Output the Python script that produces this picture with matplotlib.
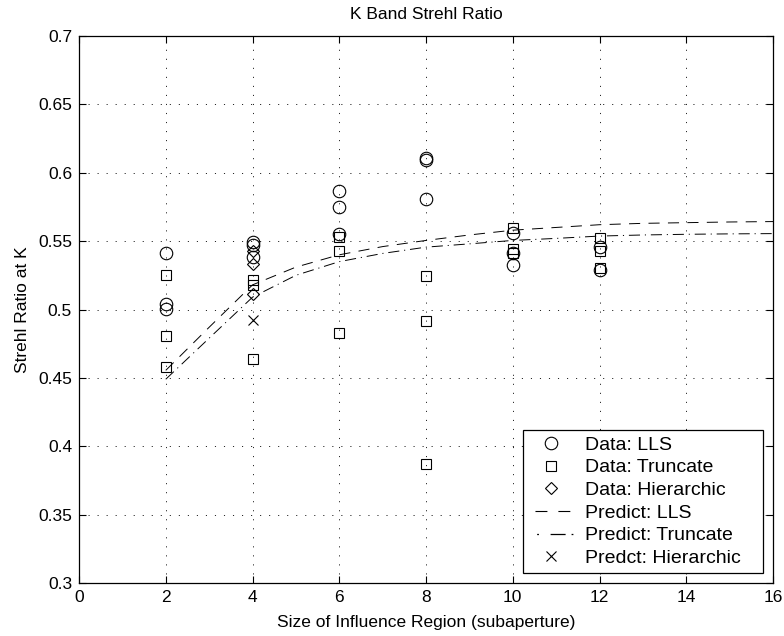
import matplotlib
matplotlib.use("Agg")
import matplotlib.pyplot as plt
from matplotlib.lines import Line2D

plt.rcParams['font.family'] = ['Liberation Sans', 'DejaVu Sans']
plt.rcParams['lines.scale_dashes'] = False

# ---- data ----
lls_x = [2, 2, 2, 4, 4, 4, 6, 6, 6, 8, 8, 8, 10, 10, 10, 12, 12]
lls_y = [0.541, 0.504, 0.5006, 0.5495, 0.547, 0.5385, 0.5864, 0.5749, 0.555,
         0.611, 0.609, 0.581, 0.5556, 0.541, 0.5322, 0.5456, 0.5286]

trunc_x = [2, 2, 2, 4, 4, 4, 6, 6, 6, 8, 8, 8, 10, 10, 10, 12, 12, 12]
trunc_y = [0.525, 0.4803, 0.4577, 0.5213, 0.518, 0.464, 0.5529, 0.5425, 0.483,
           0.5244, 0.4913, 0.3873, 0.5595, 0.5445, 0.541, 0.5525, 0.5425, 0.530]

hier_x = [4, 4, 4]
hier_y = [0.543, 0.5335, 0.5115]

pred_x = [2, 3, 4, 5, 6, 7, 8, 9, 10, 11, 12, 13, 14, 15, 16]
pred_lls = [0.4555, 0.487, 0.518, 0.531, 0.540, 0.546, 0.5505, 0.5545, 0.558,
            0.560, 0.562, 0.563, 0.5635, 0.564, 0.5643]
pred_trunc = [0.449, 0.479, 0.509, 0.525, 0.535, 0.541, 0.5456, 0.548, 0.5505,
              0.552, 0.5537, 0.5545, 0.555, 0.5553, 0.5555]

pred_hier_x = [4]
pred_hier_y = [0.492]

xticks = [0, 2, 4, 6, 8, 10, 12, 14, 16]
yticks = [0.3, 0.35, 0.4, 0.45, 0.5, 0.55, 0.6, 0.65, 0.7]
ytick_labels = ['0.3', '0.35', '0.4', '0.45', '0.5', '0.55', '0.6', '0.65', '0.7']

# ---- figure ----
fig = plt.figure(figsize=(7.84, 6.36), dpi=100)
ax = fig.add_axes([79 / 784, 1 - 583 / 636, (773 - 79) / 784, (583 - 36) / 636])

fs = 12.5
lfs = 14
ax.plot(lls_x, lls_y, linestyle='none', marker='o', ms=9, mfc='none', mec='black', mew=0.8)
ax.plot(trunc_x, trunc_y, linestyle='none', marker='s', ms=7.3, mfc='none', mec='black', mew=0.8)
ax.plot(hier_x, hier_y, linestyle='none', marker='D', ms=6.5, mfc='none', mec='black', mew=0.8)
ax.plot(pred_x, pred_lls, color='black', lw=0.7, linestyle=(0, (8, 6)))
ax.plot(pred_x, pred_trunc, color='black', lw=0.7, linestyle=(0, (8, 3.5, 0.8, 3.5)))
ax.plot(pred_hier_x, pred_hier_y, linestyle='none', marker='x', ms=7, color='black', mew=0.8)

ax.set_xlim(0, 16)
ax.set_ylim(0.3, 0.7)
ax.set_xticks(xticks)
ax.set_xticklabels([str(v) for v in xticks])
ax.set_yticks(yticks)
ax.set_yticklabels(ytick_labels)
ax.tick_params(direction='in', length=5, width=0.8, top=True, right=True,
               labelsize=fs, colors='black', pad=5)
for s in ax.spines.values():
    s.set_linewidth(0.9)
    s.set_color('black')
ax.grid(True, color='black', linestyle=(0, (0.8, 5.7)), linewidth=0.6)

ax.set_title('K Band Strehl Ratio', fontsize=fs, pad=12)
ax.set_xlabel('Size of Influence Region (subaperture)', fontsize=fs, labelpad=7)
ax.set_ylabel('Strehl Ratio at K', fontsize=fs, labelpad=6)

handles = [
    Line2D([], [], linestyle='none', marker='o', ms=9, mfc='none', mec='black', mew=0.8),
    Line2D([], [], linestyle='none', marker='s', ms=7.3, mfc='none', mec='black', mew=0.8),
    Line2D([], [], linestyle='none', marker='D', ms=6.5, mfc='none', mec='black', mew=0.8),
    Line2D([], [], color='black', lw=0.8, linestyle=(12.2, (8.6, 7.9))),
    Line2D([], [], color='black', lw=0.9,
           linestyle=(0, (0.001, 5.5, 1.3, 8.4, 10.8, 4.3, 1.3, 20))),
    Line2D([], [], linestyle='none', marker='x', ms=7, color='black', mew=0.8),
]
labels = ['Data: LLS', 'Data: Truncate', 'Data: Hierarchic', 'Predict: LLS',
          'Predict: Truncate', 'Predct: Hierarchic']
leg = ax.legend(handles, labels, loc='lower left', mode='expand',
                bbox_to_anchor=(0.6398, 0.0183, 0.3458, 0.2614),
                fontsize=lfs, fancybox=False,
                framealpha=1, edgecolor='black', borderaxespad=0,
                handlelength=2.3, handletextpad=0.6, labelspacing=0.26,
                borderpad=0.3)
leg.get_frame().set_linewidth(0.9)

fig.savefig('out.png', dpi=100)
